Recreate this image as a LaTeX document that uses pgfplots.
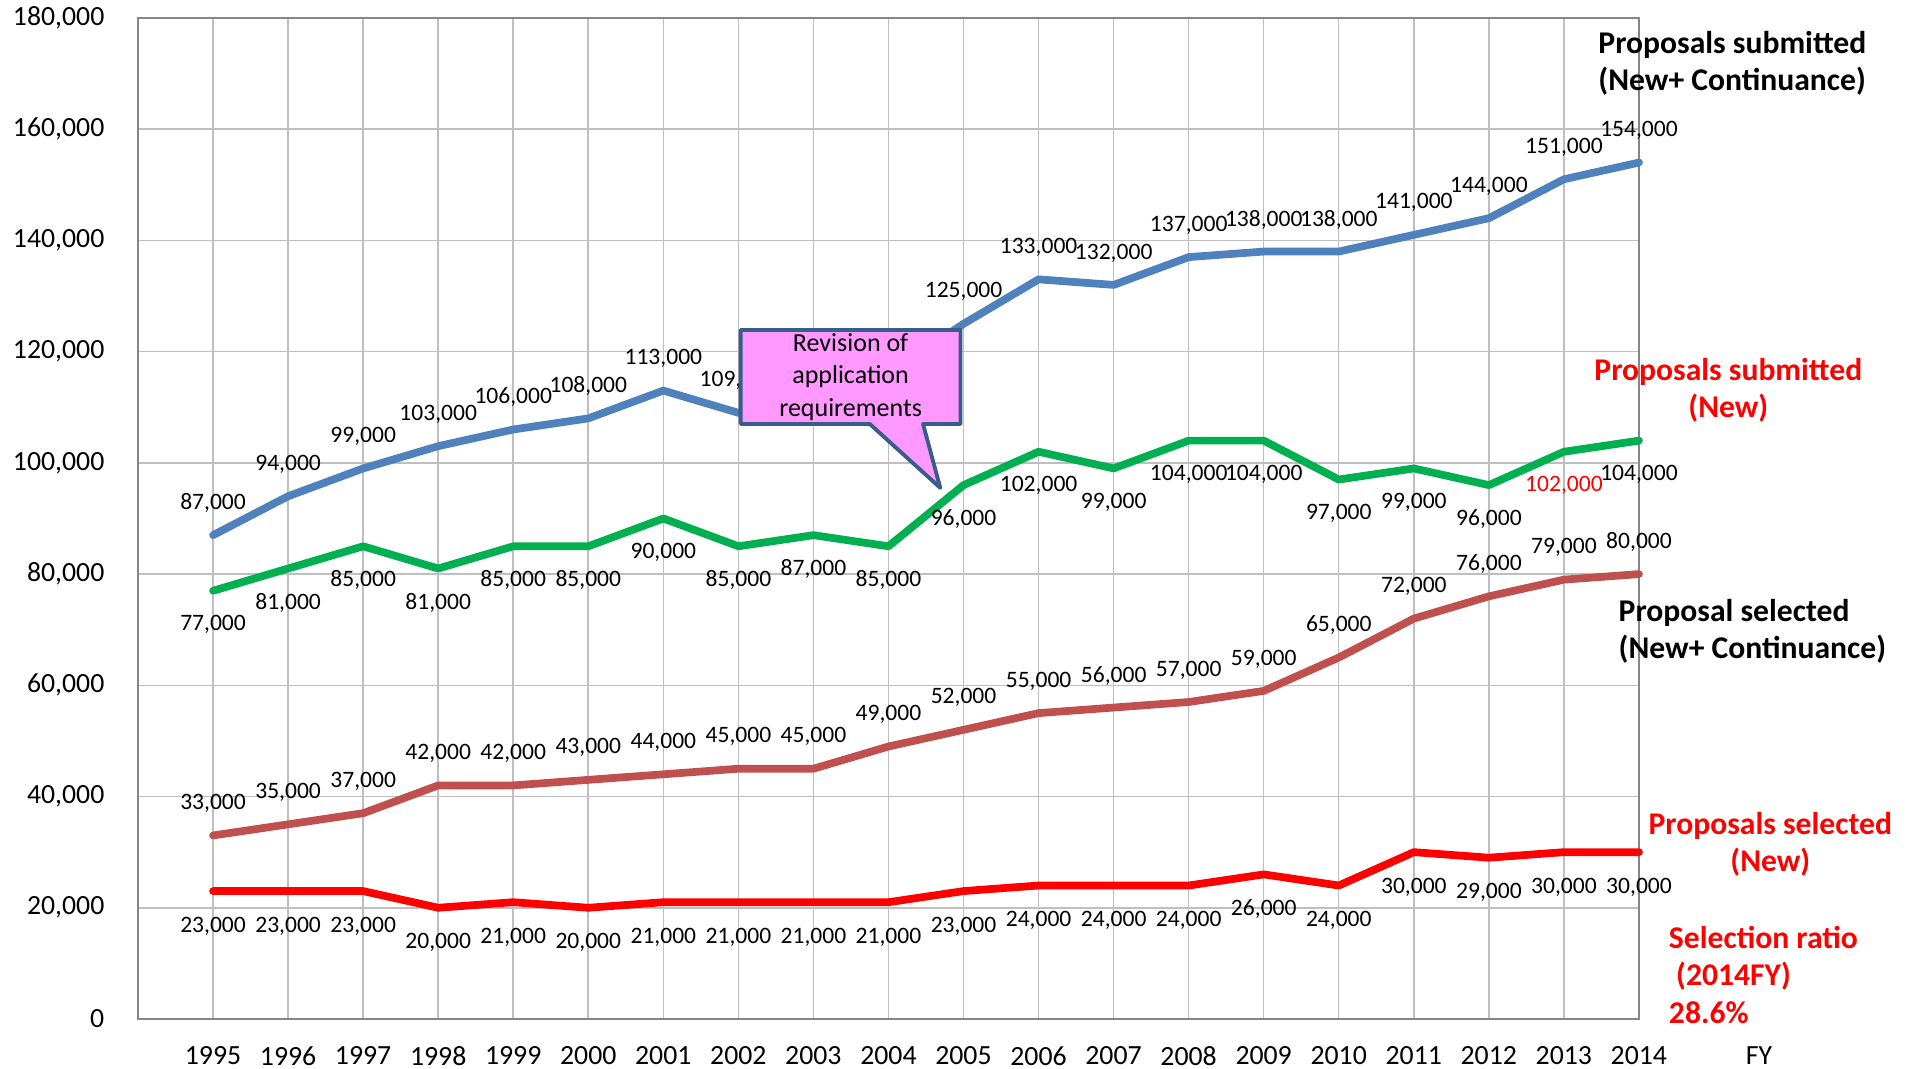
\documentclass[border=0pt]{standalone}
\usepackage{fontspec}
\setmainfont{Carlito}
\usepackage{pgfplots}
\usepackage{pgfplotstable}
\pgfplotsset{compat=1.18}

\definecolor{subblue}{HTML}{4F81BD}
\definecolor{subgreen}{HTML}{00B050}
\definecolor{selbrown}{HTML}{C0504D}
\definecolor{selred}{HTML}{FF0000}
\definecolor{gridgray}{HTML}{BFBFBF}
\definecolor{axisgray}{HTML}{868686}
\definecolor{callfill}{HTML}{FF99FF}
\definecolor{callborder}{HTML}{385D8A}

\newcommand{\lbl}{\fontsize{9}{10.6}\selectfont\bfseries}

% year, submitted (new+cont), submitted (new), selected (new+cont), selected (new)
\pgfplotstableread{
year total newsub selall selnew
1995 87000  77000  33000 23000
1996 94000  81000  35000 23000
1997 99000  85000  37000 23000
1998 103000 81000  42000 20000
1999 106000 85000  42000 21000
2000 108000 85000  43000 20000
2001 113000 90000  44000 21000
2002 109000 85000  45000 21000
2003 112000 87000  45000 21000
2004 116000 85000  49000 21000
2005 125000 96000  52000 23000
2006 133000 102000 55000 24000
2007 132000 99000  56000 24000
2008 137000 104000 57000 24000
2009 138000 104000 59000 26000
2010 138000 97000  65000 24000
2011 141000 99000  72000 30000
2012 144000 96000  76000 29000
2013 151000 102000 79000 30000
2014 154000 104000 80000 30000
}\datatable

\pgfplotsset{
  vlab/.style={
    nodes near coords={\pgfmathprintnumber[fixed,precision=0,1000 sep={,},assume math mode=true]{\pgfplotspointmeta}},
    point meta=y,
    every node near coord/.append style={anchor=center, inner sep=0pt, text=black,
      font=\fontsize{6.7}{8}\selectfont, yshift=#1}},
  ser/.style={line width=2.2pt, line cap=round, line join=round, mark=none}
}

\begin{document}
\begin{tikzpicture}
\begin{axis}[
  set layers,
  scale only axis, width=15.01cm, height=10.01cm,
  xmin=1994, xmax=2014, ymin=0, ymax=180000,
  xtick={1995,...,2014}, ytick={0,20000,...,180000},
  grid=major, major grid style={gridgray, line width=0.45pt},
  axis line style={axisgray, line width=0.7pt},
  major tick length=0pt,
  scaled y ticks=false,
  /pgf/number format/assume math mode=true,
  tick label style={font=\fontsize{7.9}{9}\selectfont, inner sep=0pt},
  xticklabel style={/pgf/number format/1000 sep={}, anchor=center, yshift=-0.37cm},
  yticklabel style={/pgf/number format/fixed, /pgf/number format/1000 sep={,}, anchor=east, xshift=-0.33cm},
  clip=false,
]
\addplot[ser, subblue, vlab=0.32cm] table[x=year, y=total] {\datatable};
\addplot[ser, subgreen] table[x=year, y=newsub] {\datatable};
\addplot[draw=none, mark=none, vlab=-0.34cm, skip coords between index={18}{19}] table[x=year, y=newsub] {\datatable};
\addplot[draw=none, mark=none, vlab=-0.34cm, every node near coord/.append style={text=selred}] coordinates {(2013,102000)};
\addplot[ser, selbrown, vlab=0.32cm] table[x=year, y=selall] {\datatable};
\addplot[ser, selred, vlab=-0.35cm] table[x=year, y=selnew] {\datatable};

% callout, above the lines and their labels
\begin{pgfonlayer}{axis foreground}
\draw[callborder, fill=callfill, line width=1.1pt, line join=round]
  (axis cs:2002.03,123900) -- (axis cs:2004.96,123900) -- (axis cs:2004.96,107000)
  -- (axis cs:2004.46,107000) -- (axis cs:2004.69,95500) -- (axis cs:2003.75,107000)
  -- (axis cs:2002.03,107000) -- cycle;
\node[align=center, font=\fontsize{7.4}{9.25}\selectfont, inner sep=0pt]
  at (axis cs:2003.495,115450) {Revision of\\application\\requirements};
\end{pgfonlayer}

% right-hand labels
\node[anchor=west, align=left, font=\lbl, inner sep=0pt] at (axis cs:2013.45,171800) {Proposals submitted\\(New+ Continuance)};
\node[align=center, text=selred, font=\lbl, inner sep=0pt] at (axis cs:2015.19,113100) {Proposals submitted\\(New)};
\node[anchor=west, align=left, font=\lbl, inner sep=0pt] at (axis cs:2013.72,69680) {Proposal selected\\(New+ Continuance)};
\node[align=center, text=selred, font=\lbl, inner sep=0pt] at (axis cs:2015.75,31470) {Proposals selected\\(New)};
\node[anchor=west, align=left, text=selred, font=\lbl, inner sep=0pt] at (axis cs:2014.39,7910) {Selection ratio\\~(2014FY)\\28.6\%};
\node[font=\fontsize{7.9}{9}\selectfont, inner sep=0pt, yshift=-0.37cm] at (axis cs:2015.6,0) {FY};
\end{axis}
\pgfresetboundingbox
\path[use as bounding box] ([shift={(-1.38cm,-0.50cm)}]current axis.south west) rectangle ++(19.14cm,10.69cm);
\end{tikzpicture}
\end{document}
